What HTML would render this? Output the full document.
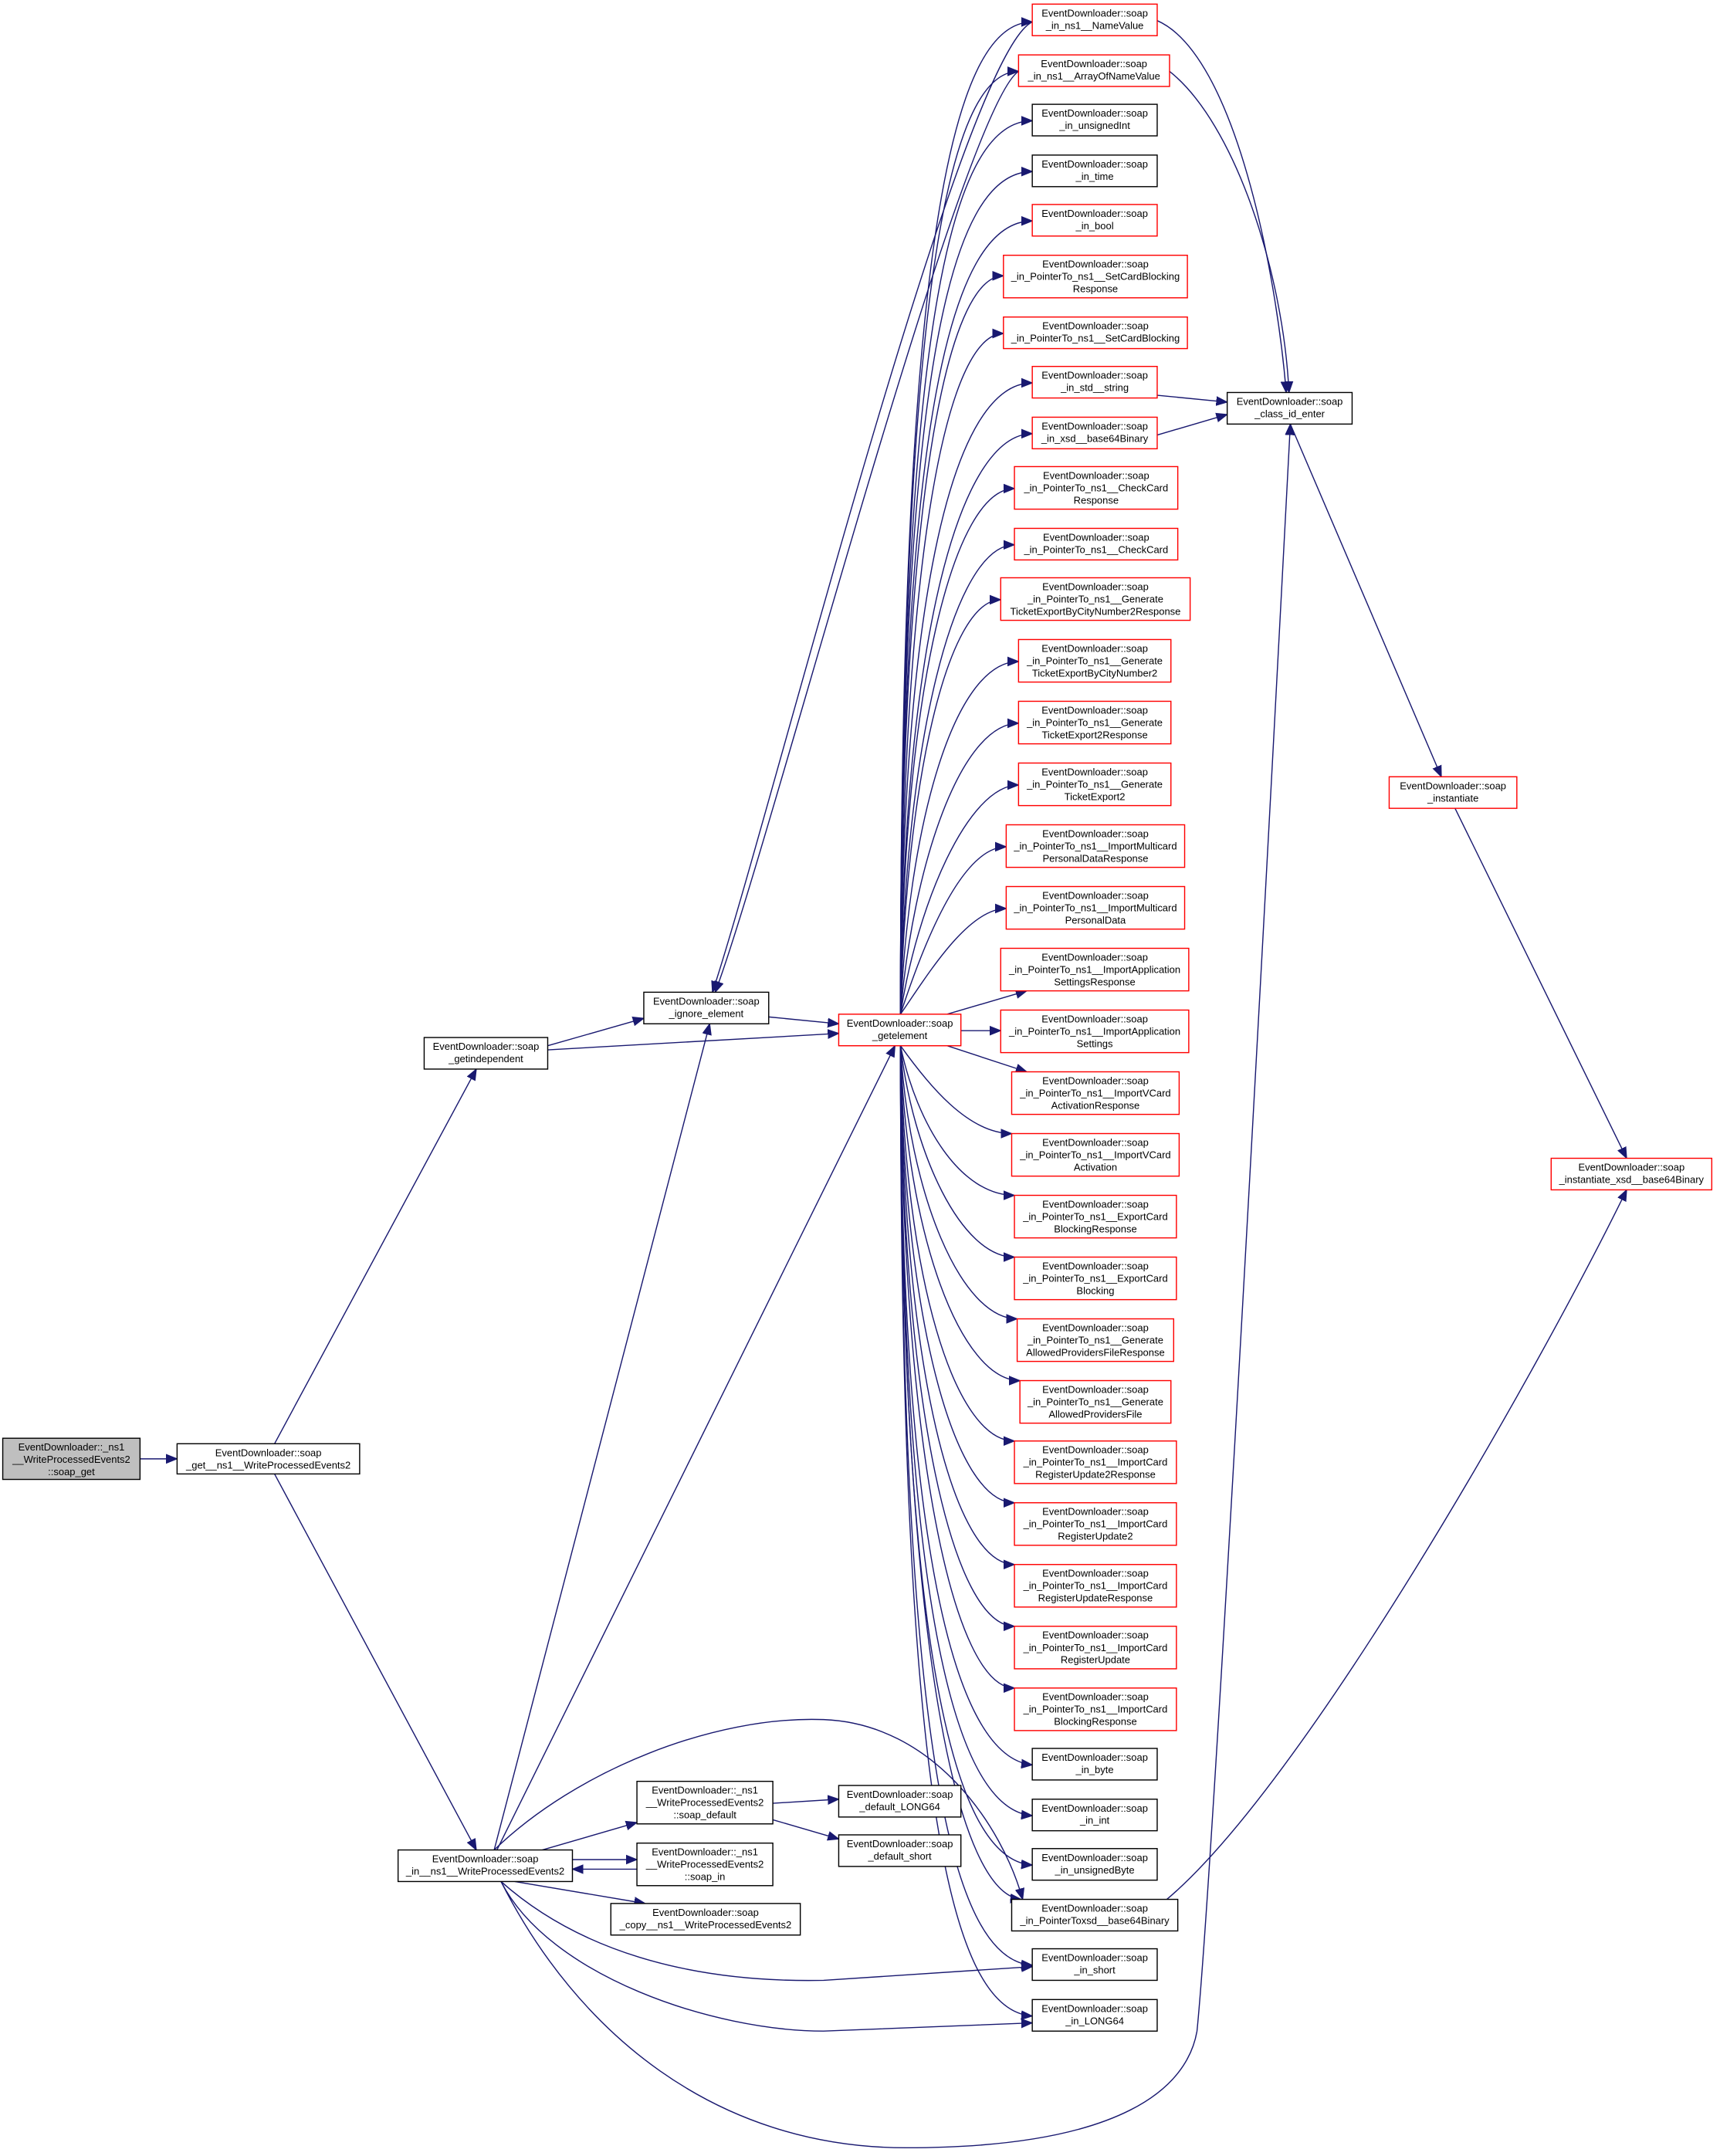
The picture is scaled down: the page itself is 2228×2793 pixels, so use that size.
<!DOCTYPE html>
<html><head><meta charset="utf-8"><style>
html,body{margin:0;padding:0;background:#fff}
svg{display:block}
text{font-family:"Liberation Sans",Arial,sans-serif;font-size:7.3px;fill:#000;text-anchor:middle}
.b rect{fill:#fff;stroke:#000;stroke-width:0.8}
.r rect{fill:#fff;stroke:#ff0000;stroke-width:0.8}
.g rect{fill:#bfbfbf;stroke:#000;stroke-width:0.8}
path{fill:none;stroke:#191970;stroke-width:0.8}
</style></head><body>
<svg width="2228" height="2793" viewBox="0 0 1253 1571" preserveAspectRatio="none" xmlns="http://www.w3.org/2000/svg">
<defs><marker id="a" viewBox="0 0 10 10" refX="10" refY="5" markerWidth="8" markerHeight="8" markerUnits="userSpaceOnUse" orient="auto"><path d="M0,1 L10,5 L0,9 z" style="fill:#191970;stroke:#191970"/></marker></defs>
<g marker-end="url(#a)">
<path d="M102,1063 L129,1063"/>
<path d="M200,1052 L347,779"/>
<path d="M200,1074 L347,1348"/>
<path d="M399,762 L469,742"/>
<path d="M399,765 L611,753"/>
<path d="M560,741 L611,746"/>
<path d="M360,1348 L517,746"/>
<path d="M362,1348 L652,762"/>
<path d="M395,1348 L464,1328"/>
<path d="M395,1355 L464,1355"/>
<path d="M464,1362 L417,1362"/>
<path d="M375,1371 L470,1387"/>
<path d="M563,1314 L611,1311"/>
<path d="M563,1326 L611,1340"/>
<path d="M360,1348 C420,1290 520,1250 600,1253 C680,1256 730,1330 745,1384"/>
<path d="M365,1371 C420,1420 500,1445 600,1443 L752,1433"/>
<path d="M365,1371 C400,1440 520,1480 600,1480 L752,1474"/>
<path d="M365,1371 C420,1480 520,1565 660,1565 C820,1565 865,1520 872,1480 C885,1350 930,500 940,309"/>
<path d="M752,16 C700,40 560,600 519,723"/>
<path d="M742,52 C700,80 560,620 521,723"/>
<path d="M843,15 C900,40 930,200 937,286"/>
<path d="M852,52 C900,90 935,200 939,286"/>
<path d="M843,288 L894,293"/>
<path d="M843,317 L894,302"/>
<path d="M940,309 L1050,566"/>
<path d="M1060,589 L1185,844"/>
<path d="M850,1384 C950,1300 1120,1000 1185,867"/>
<path d="M656,739 C656,200 690,16 752,16"/>
<path d="M656,739 C656,220 690,52 742,52"/>
<path d="M656,739 C656,250 690,88 752,88"/>
<path d="M656,739 C656,280 690,125 752,125"/>
<path d="M656,739 C656,320 690,161 752,161"/>
<path d="M656,739 C656,360 690,201 731,201"/>
<path d="M656,739 C657,400 690,243 731,243"/>
<path d="M656,739 C657,430 695,279 752,279"/>
<path d="M656,739 C658,460 700,316 752,316"/>
<path d="M656,739 C658,500 695,356 739,356"/>
<path d="M656,739 C659,540 695,397 739,397"/>
<path d="M656,739 C660,570 690,437 729,437"/>
<path d="M656,739 C662,600 695,482 742,482"/>
<path d="M656,739 C665,630 700,527 742,527"/>
<path d="M656,739 C668,660 705,572 742,572"/>
<path d="M656,739 C672,690 700,617 733,617"/>
<path d="M656,739 C676,710 705,662 733,662"/>
<path d="M690,739 L748,722"/>
<path d="M700,751 L729,751"/>
<path d="M690,762 L748,781"/>
<path d="M656,762 C676,790 705,826 737,826"/>
<path d="M656,762 C668,820 700,871 739,871"/>
<path d="M656,762 C665,840 700,916 739,916"/>
<path d="M656,762 C662,870 700,961 741,961"/>
<path d="M656,762 C660,900 700,1006 743,1006"/>
<path d="M656,762 C659,930 695,1050 739,1050"/>
<path d="M656,762 C658,960 695,1095 739,1095"/>
<path d="M656,762 C658,1000 695,1140 739,1140"/>
<path d="M656,762 C657,1030 695,1185 739,1185"/>
<path d="M656,762 C657,1060 695,1230 739,1230"/>
<path d="M656,762 C656,1100 690,1280 752,1286"/>
<path d="M656,762 C656,1140 690,1318 752,1323"/>
<path d="M656,762 C656,1180 690,1355 752,1359"/>
<path d="M656,762 C656,1220 700,1380 744,1384"/>
<path d="M656,762 C656,1260 690,1428 752,1432"/>
<path d="M656,762 C656,1300 690,1465 752,1469"/>
</g>

<g class="g"><rect x="2" y="1048" width="100" height="30"/><text x="52" y="1057">EventDownloader::_ns1</text><text x="52" y="1066">__WriteProcessedEvents2</text><text x="52" y="1075">::soap_get</text></g>
<g class="b"><rect x="129" y="1052" width="133" height="22"/><text x="195.5" y="1061">EventDownloader::soap</text><text x="195.5" y="1070">_get__ns1__WriteProcessedEvents2</text></g>
<g class="b"><rect x="309" y="756" width="90" height="23"/><text x="354" y="765">EventDownloader::soap</text><text x="354" y="774">_getindependent</text></g>
<g class="b"><rect x="469" y="723" width="91" height="23"/><text x="514.5" y="732">EventDownloader::soap</text><text x="514.5" y="741">_ignore_element</text></g>
<g class="r"><rect x="611" y="739" width="89" height="23"/><text x="655.5" y="748">EventDownloader::soap</text><text x="655.5" y="757">_getelement</text></g>
<g class="b"><rect x="290" y="1348" width="127" height="23"/><text x="353.5" y="1357">EventDownloader::soap</text><text x="353.5" y="1366">_in__ns1__WriteProcessedEvents2</text></g>
<g class="b"><rect x="464" y="1298" width="99" height="31"/><text x="513.5" y="1307">EventDownloader::_ns1</text><text x="513.5" y="1316">__WriteProcessedEvents2</text><text x="513.5" y="1325">::soap_default</text></g>
<g class="b"><rect x="464" y="1343" width="99" height="31"/><text x="513.5" y="1352">EventDownloader::_ns1</text><text x="513.5" y="1361">__WriteProcessedEvents2</text><text x="513.5" y="1370">::soap_in</text></g>
<g class="b"><rect x="445" y="1387" width="138" height="23"/><text x="514" y="1396">EventDownloader::soap</text><text x="514" y="1405">_copy__ns1__WriteProcessedEvents2</text></g>
<g class="b"><rect x="611" y="1301" width="89" height="23"/><text x="655.5" y="1310">EventDownloader::soap</text><text x="655.5" y="1319">_default_LONG64</text></g>
<g class="b"><rect x="611" y="1337" width="89" height="23"/><text x="655.5" y="1346">EventDownloader::soap</text><text x="655.5" y="1355">_default_short</text></g>

<g class="b"><rect x="894" y="286" width="91" height="23"/><text x="939.5" y="295">EventDownloader::soap</text><text x="939.5" y="304">_class_id_enter</text></g>
<g class="r"><rect x="1012" y="566" width="93" height="23"/><text x="1058.5" y="575">EventDownloader::soap</text><text x="1058.5" y="584">_instantiate</text></g>
<g class="r"><rect x="1130" y="844" width="117" height="23"/><text x="1188.5" y="853">EventDownloader::soap</text><text x="1188.5" y="862">_instantiate_xsd__base64Binary</text></g>

<g class="r"><rect x="752" y="3" width="91" height="23"/><text x="797.5" y="12">EventDownloader::soap</text><text x="797.5" y="21">_in_ns1__NameValue</text></g>
<g class="r"><rect x="742" y="40" width="110" height="23"/><text x="797" y="49">EventDownloader::soap</text><text x="797" y="58">_in_ns1__ArrayOfNameValue</text></g>
<g class="b"><rect x="752" y="76" width="91" height="23"/><text x="797.5" y="85">EventDownloader::soap</text><text x="797.5" y="94">_in_unsignedInt</text></g>
<g class="b"><rect x="752" y="113" width="91" height="23"/><text x="797.5" y="122">EventDownloader::soap</text><text x="797.5" y="131">_in_time</text></g>
<g class="r"><rect x="752" y="149" width="91" height="23"/><text x="797.5" y="158">EventDownloader::soap</text><text x="797.5" y="167">_in_bool</text></g>
<g class="r"><rect x="731" y="186" width="134" height="31"/><text x="798" y="195">EventDownloader::soap</text><text x="798" y="204">_in_PointerTo_ns1__SetCardBlocking</text><text x="798" y="213">Response</text></g>
<g class="r"><rect x="731" y="231" width="134" height="23"/><text x="798" y="240">EventDownloader::soap</text><text x="798" y="249">_in_PointerTo_ns1__SetCardBlocking</text></g>
<g class="r"><rect x="752" y="267" width="91" height="23"/><text x="797.5" y="276">EventDownloader::soap</text><text x="797.5" y="285">_in_std__string</text></g>
<g class="r"><rect x="752" y="304" width="91" height="23"/><text x="797.5" y="313">EventDownloader::soap</text><text x="797.5" y="322">_in_xsd__base64Binary</text></g>
<g class="r"><rect x="739" y="340" width="119" height="31"/><text x="798.5" y="349">EventDownloader::soap</text><text x="798.5" y="358">_in_PointerTo_ns1__CheckCard</text><text x="798.5" y="367">Response</text></g>
<g class="r"><rect x="739" y="385" width="119" height="23"/><text x="798.5" y="394">EventDownloader::soap</text><text x="798.5" y="403">_in_PointerTo_ns1__CheckCard</text></g>
<g class="r"><rect x="729" y="421" width="138" height="31"/><text x="798" y="430">EventDownloader::soap</text><text x="798" y="439">_in_PointerTo_ns1__Generate</text><text x="798" y="448">TicketExportByCityNumber2Response</text></g>
<g class="r"><rect x="742" y="466" width="111" height="31"/><text x="797.5" y="475">EventDownloader::soap</text><text x="797.5" y="484">_in_PointerTo_ns1__Generate</text><text x="797.5" y="493">TicketExportByCityNumber2</text></g>
<g class="r"><rect x="742" y="511" width="111" height="31"/><text x="797.5" y="520">EventDownloader::soap</text><text x="797.5" y="529">_in_PointerTo_ns1__Generate</text><text x="797.5" y="538">TicketExport2Response</text></g>
<g class="r"><rect x="742" y="556" width="111" height="31"/><text x="797.5" y="565">EventDownloader::soap</text><text x="797.5" y="574">_in_PointerTo_ns1__Generate</text><text x="797.5" y="583">TicketExport2</text></g>
<g class="r"><rect x="733" y="601" width="130" height="31"/><text x="798" y="610">EventDownloader::soap</text><text x="798" y="619">_in_PointerTo_ns1__ImportMulticard</text><text x="798" y="628">PersonalDataResponse</text></g>
<g class="r"><rect x="733" y="646" width="130" height="31"/><text x="798" y="655">EventDownloader::soap</text><text x="798" y="664">_in_PointerTo_ns1__ImportMulticard</text><text x="798" y="673">PersonalData</text></g>
<g class="r"><rect x="729" y="691" width="137" height="31"/><text x="797.5" y="700">EventDownloader::soap</text><text x="797.5" y="709">_in_PointerTo_ns1__ImportApplication</text><text x="797.5" y="718">SettingsResponse</text></g>
<g class="r"><rect x="729" y="736" width="137" height="31"/><text x="797.5" y="745">EventDownloader::soap</text><text x="797.5" y="754">_in_PointerTo_ns1__ImportApplication</text><text x="797.5" y="763">Settings</text></g>
<g class="r"><rect x="737" y="781" width="122" height="31"/><text x="798" y="790">EventDownloader::soap</text><text x="798" y="799">_in_PointerTo_ns1__ImportVCard</text><text x="798" y="808">ActivationResponse</text></g>
<g class="r"><rect x="737" y="826" width="122" height="31"/><text x="798" y="835">EventDownloader::soap</text><text x="798" y="844">_in_PointerTo_ns1__ImportVCard</text><text x="798" y="853">Activation</text></g>
<g class="r"><rect x="739" y="871" width="118" height="31"/><text x="798" y="880">EventDownloader::soap</text><text x="798" y="889">_in_PointerTo_ns1__ExportCard</text><text x="798" y="898">BlockingResponse</text></g>
<g class="r"><rect x="739" y="916" width="118" height="31"/><text x="798" y="925">EventDownloader::soap</text><text x="798" y="934">_in_PointerTo_ns1__ExportCard</text><text x="798" y="943">Blocking</text></g>
<g class="r"><rect x="741" y="961" width="114" height="31"/><text x="798" y="970">EventDownloader::soap</text><text x="798" y="979">_in_PointerTo_ns1__Generate</text><text x="798" y="988">AllowedProvidersFileResponse</text></g>
<g class="r"><rect x="743" y="1006" width="110" height="31"/><text x="798" y="1015">EventDownloader::soap</text><text x="798" y="1024">_in_PointerTo_ns1__Generate</text><text x="798" y="1033">AllowedProvidersFile</text></g>
<g class="r"><rect x="739" y="1050" width="118" height="31"/><text x="798" y="1059">EventDownloader::soap</text><text x="798" y="1068">_in_PointerTo_ns1__ImportCard</text><text x="798" y="1077">RegisterUpdate2Response</text></g>
<g class="r"><rect x="739" y="1095" width="118" height="31"/><text x="798" y="1104">EventDownloader::soap</text><text x="798" y="1113">_in_PointerTo_ns1__ImportCard</text><text x="798" y="1122">RegisterUpdate2</text></g>
<g class="r"><rect x="739" y="1140" width="118" height="31"/><text x="798" y="1149">EventDownloader::soap</text><text x="798" y="1158">_in_PointerTo_ns1__ImportCard</text><text x="798" y="1167">RegisterUpdateResponse</text></g>
<g class="r"><rect x="739" y="1185" width="118" height="31"/><text x="798" y="1194">EventDownloader::soap</text><text x="798" y="1203">_in_PointerTo_ns1__ImportCard</text><text x="798" y="1212">RegisterUpdate</text></g>
<g class="r"><rect x="739" y="1230" width="118" height="31"/><text x="798" y="1239">EventDownloader::soap</text><text x="798" y="1248">_in_PointerTo_ns1__ImportCard</text><text x="798" y="1257">BlockingResponse</text></g>
<g class="b"><rect x="752" y="1274" width="91" height="23"/><text x="797.5" y="1283">EventDownloader::soap</text><text x="797.5" y="1292">_in_byte</text></g>
<g class="b"><rect x="752" y="1311" width="91" height="23"/><text x="797.5" y="1320">EventDownloader::soap</text><text x="797.5" y="1329">_in_int</text></g>
<g class="b"><rect x="752" y="1347" width="91" height="23"/><text x="797.5" y="1356">EventDownloader::soap</text><text x="797.5" y="1365">_in_unsignedByte</text></g>
<g class="b"><rect x="737" y="1384" width="121" height="23"/><text x="797.5" y="1393">EventDownloader::soap</text><text x="797.5" y="1402">_in_PointerToxsd__base64Binary</text></g>
<g class="b"><rect x="752" y="1420" width="91" height="23"/><text x="797.5" y="1429">EventDownloader::soap</text><text x="797.5" y="1438">_in_short</text></g>
<g class="b"><rect x="752" y="1457" width="91" height="23"/><text x="797.5" y="1466">EventDownloader::soap</text><text x="797.5" y="1475">_in_LONG64</text></g>
</svg>
</body></html>
